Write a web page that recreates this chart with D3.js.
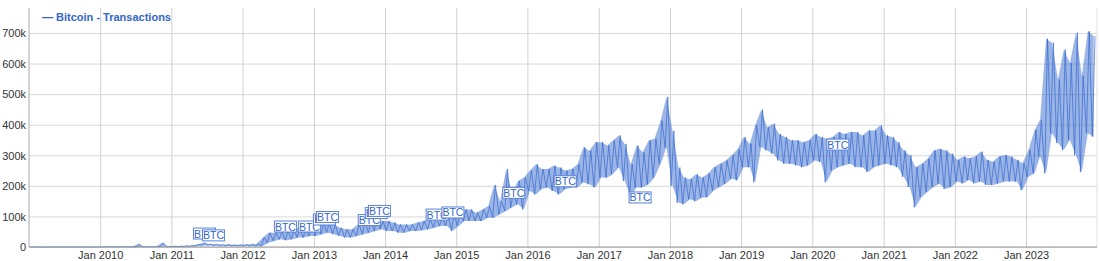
<!DOCTYPE html>
<html>
<head>
<meta charset="utf-8">
<script src="https://cdn.jsdelivr.net/npm/d3@7"></script>
<style>
  body { margin: 0; background: #fff; }
  svg { display: block; font-family: Arial, "Liberation Sans", sans-serif; }
</style>
</head>
<body>
<div id="rootDiv"></div>
<script>
const width = 1100
const height = 261
const plotLeft = 29, plotRight = 1097, plotTop = 8, plotBottom = 247

// monthly range of daily transactions (thousands), Jan 2009 .. Dec 2023
const txLow = [
    0, 0, 0, 0, 0, 0, 0, 0, 0, 0, 0, 0,
    0.2, 0.2, 0.2, 0.2, 0.2, 0.3, 0.3, 0.3, 0.3, 0.5, 0.5, 0.5,
    1, 1, 1, 2, 3, 5, 5, 4, 4, 3, 3, 3,
    3, 3, 2, 3, 14, 20, 25, 22, 25, 31, 31, 36,
    36, 42, 47, 42, 36, 31, 31, 36, 42, 47, 52, 58,
    52, 52, 47, 47, 52, 52, 55, 58, 63, 69, 69, 52,
    69, 85, 85, 85, 85, 96, 96, 107, 118, 129, 140, 123,
    183, 172, 189, 195, 183, 172, 189, 195, 195, 211, 205, 195,
    227, 227, 238, 260, 216, 165, 195, 195, 205, 227, 271, 326,
    200, 145, 140, 156, 150, 161, 163, 185, 196, 207, 223, 218,
    261, 261, 212, 327, 316, 305, 283, 272, 272, 267, 261, 267,
    283, 278, 212, 250, 261, 267, 272, 261, 261, 245, 261, 267,
    272, 267, 261, 229, 196, 130, 163, 180, 196, 207, 190, 196,
    214, 208, 219, 208, 214, 203, 203, 208, 214, 214, 214, 186,
    230, 241, 296, 241, 372, 340, 317, 350, 300, 245, 372, 361
]
const txHigh = [
    0.3, 0.3, 0.3, 0.3, 0.3, 0.3, 0.3, 0.3, 0.3, 0.3, 0.3, 0.3,
    0.8, 0.8, 0.8, 1, 1, 1, 10, 1, 1.5, 2, 14, 2,
    3, 3, 4, 5, 8, 14, 10, 9, 8, 8, 7, 7,
    8, 9, 11, 31, 47, 47, 52, 52, 58, 63, 58, 69,
    74, 80, 80, 74, 63, 58, 58, 74, 85, 85, 102, 85,
    85, 80, 74, 74, 74, 80, 85, 91, 96, 96, 107, 107,
    113, 123, 123, 112, 123, 134, 203, 150, 255, 178, 216, 227,
    250, 271, 255, 255, 266, 260, 250, 255, 271, 326, 315, 343,
    343, 332, 348, 365, 337, 271, 332, 310, 348, 354, 414, 491,
    380, 260, 227, 222, 238, 227, 240, 261, 272, 283, 300, 320,
    360, 338, 398, 449, 392, 403, 370, 360, 349, 349, 343, 349,
    370, 360, 354, 360, 376, 370, 376, 376, 365, 381, 381, 398,
    365, 360, 343, 316, 300, 261, 272, 289, 316, 321, 316, 305,
    285, 296, 290, 296, 312, 285, 279, 296, 301, 296, 285, 274,
    318, 383, 416, 681, 668, 548, 646, 602, 701, 560, 706, 690
]

// "BTC" flags: date and level (thousands)
const flagDates = ["2011-04-22", "2011-06-07", "2012-06-10", "2012-10-11", "2012-12-27", "2013-01-12",
    "2013-08-14", "2013-09-19", "2013-10-05", "2014-07-28", "2014-10-17", "2015-08-25",
    "2016-05-15", "2017-06-03", "2020-03-13"]
const flagValues = [44, 38, 67, 67, 90, 98, 88, 111, 118, 106, 113, 177, 215, 162, 335]

const yTicks = [0, 100, 200, 300, 400, 500, 600, 700]
const yearTicks = d3.range(2010, 2024)
const seriesName = "Bitcoin - Transactions"

const blue = "#3366cc"

const months = d3.timeMonth.range(new Date(2009, 0, 1), new Date(2024, 0, 1))

const svg = d3.select("#rootDiv").append("svg")
    .attr("width", width)
    .attr("height", height)

const x = d3.scaleTime()
    .domain([new Date(2009, 0, 1), new Date(2023, 11, 31)])
    .range([plotLeft, plotRight])
const y = d3.scaleLinear()
    .domain([0, 700])
    .range([plotBottom, 33])

// horizontal grid + y labels
const yAxis = svg.append("g")
    .attr("transform", `translate(${plotLeft},0)`)
    .call(d3.axisLeft(y).tickValues(yTicks)
        .tickSize(-(plotRight - plotLeft))
        .tickPadding(3)
        .tickFormat(d => d === 0 ? "0" : d + "k"))
yAxis.select(".domain").remove()
yAxis.selectAll("line").attr("stroke", "#d9d9d9")
yAxis.selectAll("text").attr("font-size", 11).attr("fill", "#333").attr("dy", "0.34em")

// vertical grid + x labels
const xAxis = svg.append("g")
    .attr("transform", `translate(0,${plotBottom})`)
    .call(d3.axisBottom(x)
        .tickValues(yearTicks.map(yr => new Date(yr, 0, 1)))
        .tickSize(-(plotBottom - plotTop))
        .tickPadding(4)
        .tickFormat(d3.timeFormat("Jan %Y")))
xAxis.select(".domain").remove()
xAxis.selectAll("line").attr("stroke", "#d0d0d0")
xAxis.selectAll("text").attr("font-size", 11).attr("fill", "#333").attr("dy", "0.71em")

// frame
svg.append("line").attr("x1", plotRight).attr("x2", plotRight).attr("y1", plotTop).attr("y2", plotBottom)
    .attr("stroke", "#e2e2e2")
svg.append("line").attr("x1", plotLeft).attr("x2", plotLeft).attr("y1", plotTop).attr("y2", plotBottom)
    .attr("stroke", "#aaa")

// series: band of the month's range, with a low/high trace over it
const points = []
months.forEach((m, i) => {
    points.push([d3.timeDay.offset(m, 6), txLow[i]])
    points.push([d3.timeDay.offset(m, 20), txHigh[i]])
})

svg.append("path")
    .attr("d", d3.area()
        .x((d, i) => x(d3.timeDay.offset(months[i], 13)))
        .y0((d, i) => y(txLow[i]))
        .y1((d, i) => y(txHigh[i]))(months))
    .attr("fill", "#4a78d4")
    .attr("fill-opacity", 0.55)

svg.append("path")
    .attr("d", d3.line().x(d => x(d[0])).y(d => y(d[1]))(points))
    .attr("fill", "none")
    .attr("stroke", blue)
    .attr("stroke-opacity", 0.85)
    .attr("stroke-width", 0.8)

svg.append("line").attr("x1", plotLeft).attr("x2", plotRight).attr("y1", plotBottom).attr("y2", plotBottom)
    .attr("stroke", "#999")

// flags
const flags = svg.append("g")
flagDates.forEach((d, i) => {
    const fx = x(d3.isoParse(d)), fy = y(flagValues[i])
    const f = flags.append("g").attr("transform", `translate(${fx},${fy})`)
    f.append("rect")
        .attr("x", 0.5).attr("y", -5.5)
        .attr("width", 22).attr("height", 11)
        .attr("fill", "#fff")
        .attr("stroke", "#5a82d6")
        .attr("stroke-width", 1)
    f.append("text")
        .attr("x", 11.5).attr("y", 4)
        .attr("text-anchor", "middle")
        .attr("font-size", 10.5)
        .attr("fill", blue)
        .text("BTC")
})

// legend
svg.append("text")
    .attr("x", 42)
    .attr("y", 20.5)
    .attr("font-size", 11)
    .attr("font-weight", "bold")
    .attr("fill", blue)
    .text("\u2014 " + seriesName)
</script>
</body>
</html>
